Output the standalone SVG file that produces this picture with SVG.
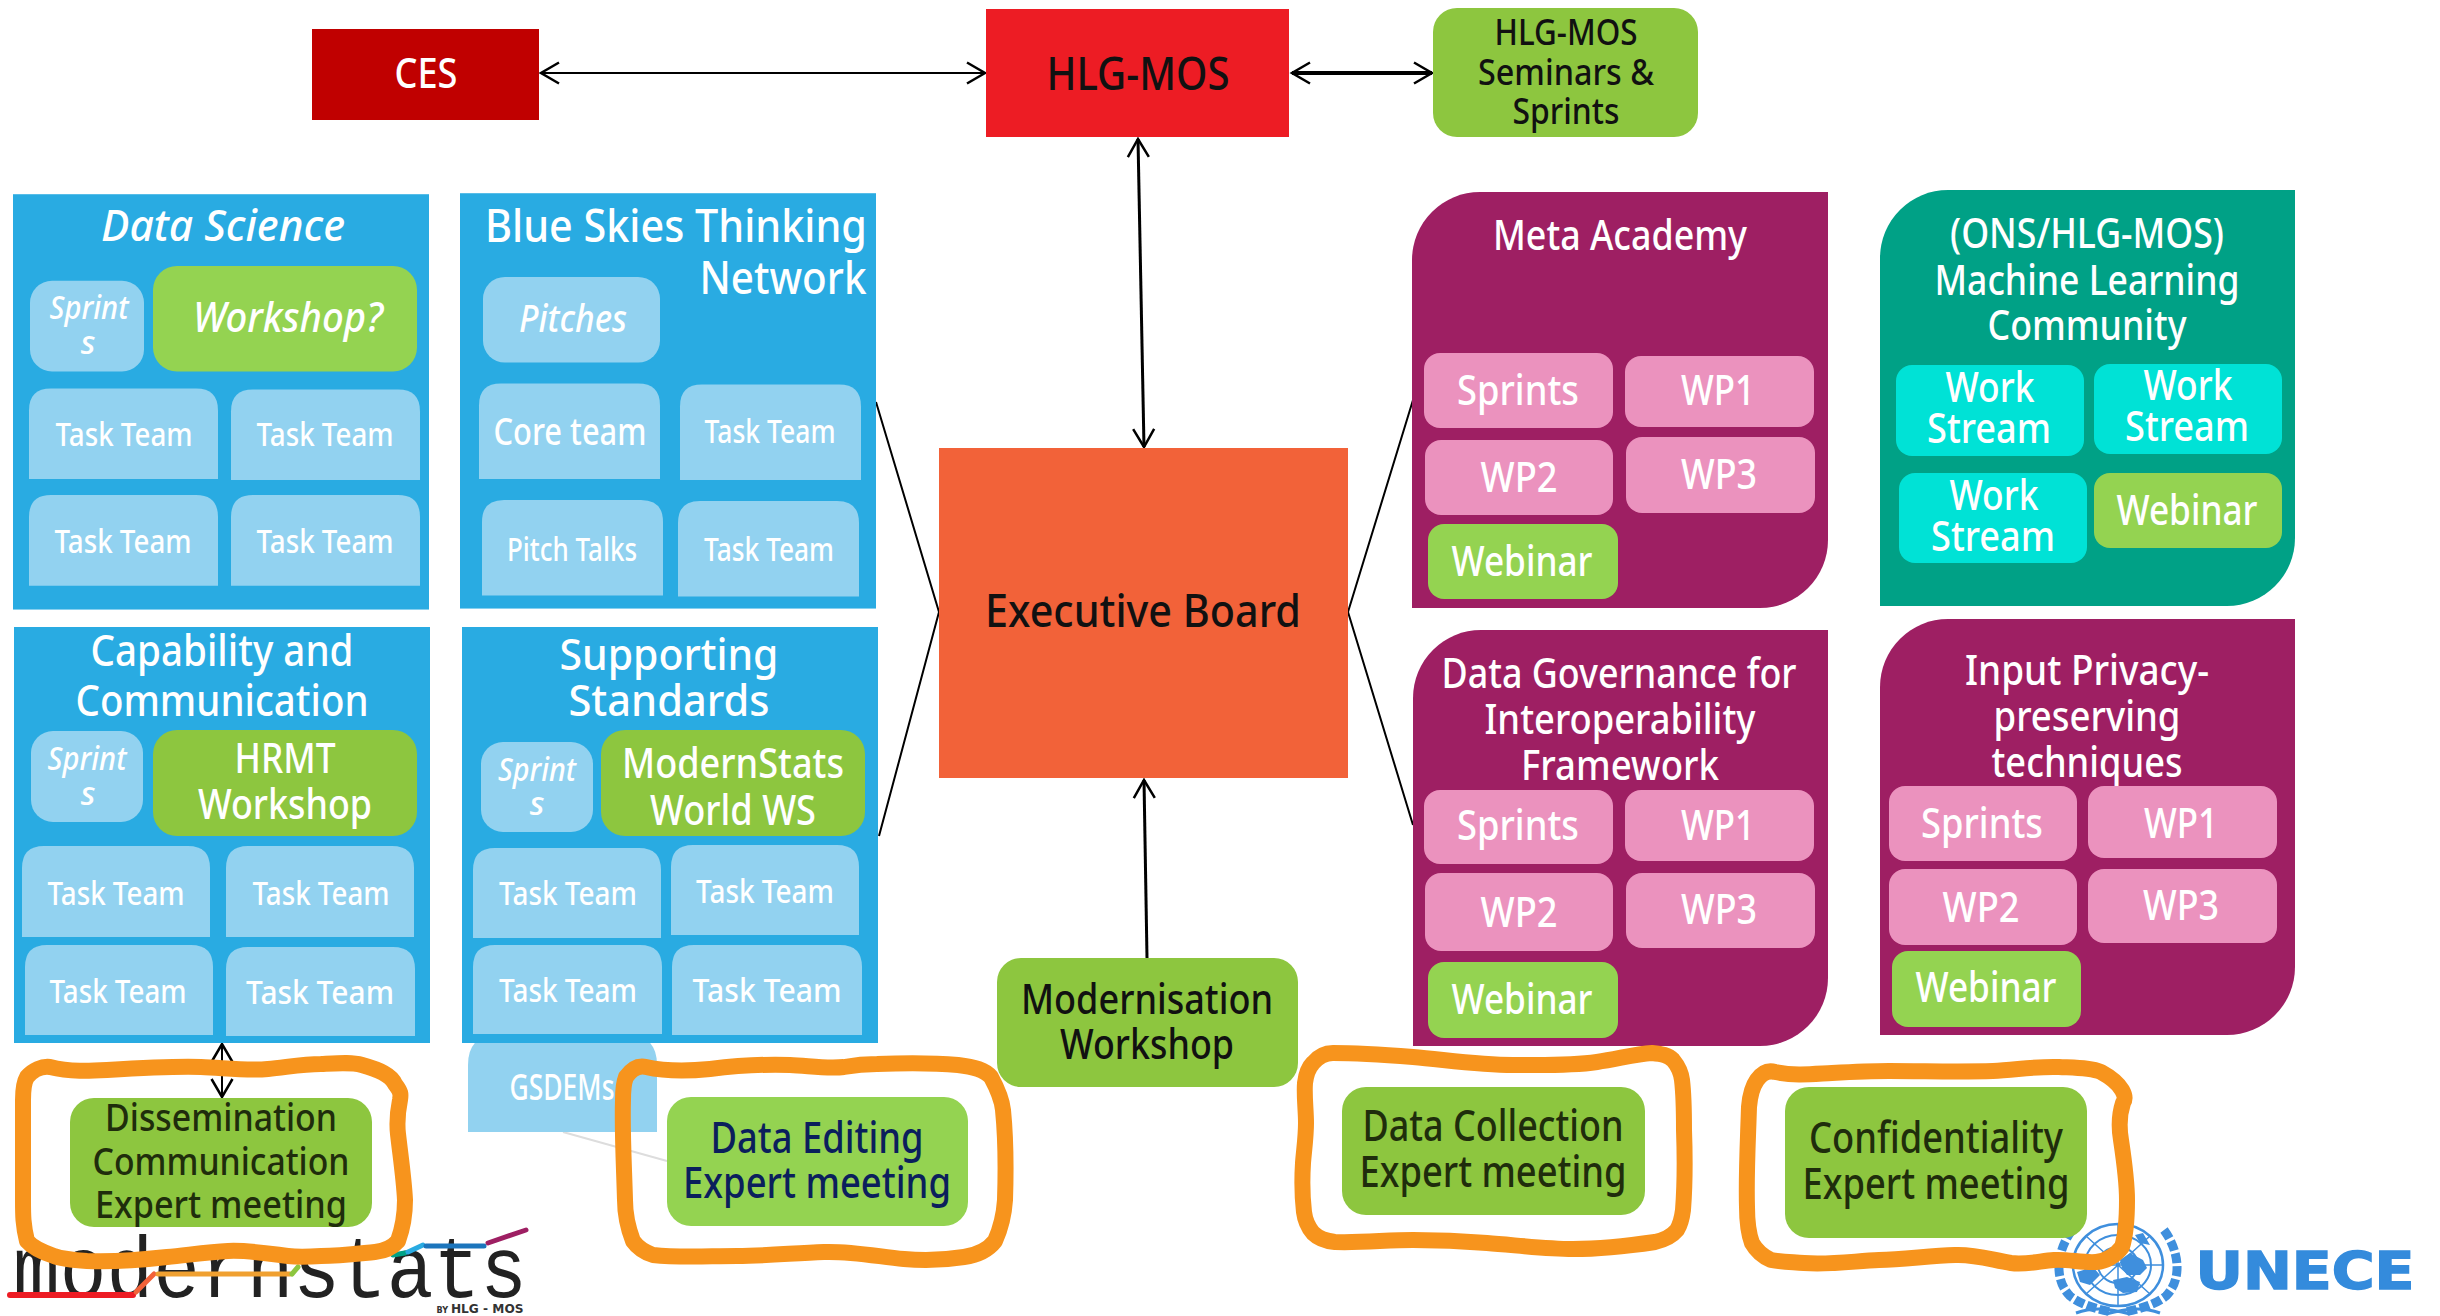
<svg xmlns="http://www.w3.org/2000/svg" width="2440" height="1316" viewBox="0 0 2440 1316">
<style>
text{font-family:"Noto Sans","Open Sans",sans-serif;text-anchor:middle;fill:#fff;font-weight:500}
.dk{fill:#111}.mg{fill:#1f2d0c}.nv{fill:#0b1f5c}.it{font-style:italic}
.s32{font-size:33px}.s36{font-size:36px}.s38{font-size:38px}.s42{font-size:42px}.s44{font-size:44px}.s46{font-size:46px}
.blue{fill:#29abe2}.lb{fill:#92d2f0}.gr{fill:#94d351}.gd{fill:#8dc63f}.pu{fill:#9e1f63}.pk{fill:#eb92be}.tl{fill:#00a186}.cy{fill:#00e2d6}
.ln{fill:none;stroke:#000;stroke-width:2}
.sc{fill:none;stroke:#f7941d;stroke-width:16;stroke-linejoin:round}
.un{fill:none;stroke:#3f8fdd}
.bar{fill:none;stroke-width:5;stroke-linecap:round}
</style>
<defs>
<marker id="oa" markerUnits="userSpaceOnUse" markerWidth="24" markerHeight="26" refX="21" refY="12" orient="auto-start-reverse" viewBox="0 0 24 24"><path d="M3,1.500 L21,12 L3,22.500" fill="none" stroke="#000" stroke-width="2.500"/></marker>
</defs>

<g id="logo-modernstats">
<text x="270" y="1297" style="font-family:'Liberation Mono',monospace;font-size:88px;font-weight:400;fill:#222" textLength="514" lengthAdjust="spacingAndGlyphs">modernstats</text>
<path class="bar" d="M10,1295H133" stroke="#ed1c24" style="stroke-width:6"/>
<path class="bar" d="M136,1292L154,1274" stroke="#f26239"/>
<path class="bar" d="M158,1274H290" stroke="#f0a030"/>
<path class="bar" d="M292,1274L298,1267" stroke="#8dc63f"/>
<path class="bar" d="M393,1255L405,1253" stroke="#00a186"/>
<path class="bar" d="M408,1252L423,1245" stroke="#29abe2"/>
<path class="bar" d="M426,1246H484" stroke="#1c75bc"/>
<path class="bar" d="M488,1243L526,1230" stroke="#9e1f63"/>
<text x="480" y="1313" style="font-family:'DejaVu Sans',sans-serif;font-size:12px;fill:#333;font-weight:700" textLength="87" lengthAdjust="spacingAndGlyphs"><tspan font-size="8px">BY </tspan>HLG - MOS</text>
</g>

<g id="logo-unece">
<ellipse class="un" cx="2118" cy="1265" rx="45" ry="41" stroke-width="2.500"/>
<ellipse class="un" cx="2118" cy="1265" rx="33" ry="30" stroke-width="2"/>
<ellipse class="un" cx="2118" cy="1265" rx="20" ry="18" stroke-width="2"/>
<path class="un" d="M2073,1265H2163M2118,1224V1306M2086,1236L2150,1294M2150,1236L2086,1294" stroke-width="1.500"/>
<path d="M2120,1260L2130,1253L2143,1260L2147,1268L2140,1275L2127,1275L2122,1268ZM2077,1272L2093,1267L2100,1275L2090,1285L2080,1282ZM2113,1280L2127,1277L2140,1282L2137,1292L2123,1293L2115,1288ZM2135,1235L2143,1233L2150,1245L2140,1243Z" fill="#3f8fdd"/>
<path class="un" d="M2072,1230C2056,1252 2054,1280 2070,1296C2080,1304 2095,1309 2112,1312M2164,1230C2180,1252 2182,1280 2166,1296C2156,1304 2141,1309 2124,1312" stroke-width="9" stroke-dasharray="10 3"/>
<path class="un" d="M2076,1313C2095,1306 2110,1309 2130,1314M2160,1313C2141,1306 2126,1309 2106,1314" stroke-width="3"/>
<text x="2305" y="1289" style="font-family:'DejaVu Sans',sans-serif;font-weight:700;font-size:51px;fill:#348bdc;stroke:#348bdc;stroke-width:1.500" textLength="219" lengthAdjust="spacingAndGlyphs">UNECE</text>
</g>

<g id="connectors">
<path class="ln" d="M541,73H985" marker-start="url(#oa)" marker-end="url(#oa)"/>
<path class="ln" style="stroke-width:4" d="M1292,73H1432" marker-start="url(#oa)" marker-end="url(#oa)"/>
<path class="ln" style="stroke-width:3" d="M1138,139L1144,447" marker-start="url(#oa)" marker-end="url(#oa)"/>
<path class="ln" style="stroke-width:3" d="M1147,958L1144,780" marker-end="url(#oa)"/>
<path class="ln" d="M876,402L939,612L879,836"/>
<path class="ln" d="M1413,400L1348,612L1413,825"/>
<path class="ln" d="M222,1044V1097" marker-start="url(#oa)" marker-end="url(#oa)"/>
<path d="M563,1132L667,1161" fill="none" stroke="#ddd" stroke-width="2"/>
</g>

<g id="gsdems"><path class="lb" d="M468,1132V1065Q468,1035 498,1035H627Q657,1035 657,1065V1132Z"/>
<text class="s36" x="562" y="1100" textLength="105" lengthAdjust="spacingAndGlyphs">GSDEMs</text></g>

<g id="ces"><rect x="312" y="29" width="227" height="91" fill="#c00000"/><text x="426" y="88" style="font-size:41px" textLength="63" lengthAdjust="spacingAndGlyphs">CES</text></g>
<g id="hlg-mos"><rect x="986" y="9" width="303" height="128" fill="#ed1c24"/><text class="dk s46" x="1138" y="90" textLength="183" lengthAdjust="spacingAndGlyphs">HLG-MOS</text></g>
<g id="seminars"><rect class="gd" x="1433" y="8" width="265" height="129" rx="24"/>
<text class="dk s36" x="1566" y="45" textLength="143" lengthAdjust="spacingAndGlyphs">HLG-MOS</text>
<text class="dk s36" x="1566" y="85" textLength="176" lengthAdjust="spacingAndGlyphs">Seminars &amp;</text>
<text class="dk s36" x="1566" y="124" textLength="107" lengthAdjust="spacingAndGlyphs">Sprints</text></g>

<g id="data-science" transform="scale(1,.996)">
<rect class="blue" x="13" y="195" width="416" height="417"/>
<text class="it s44" x="223" y="242" textLength="244" lengthAdjust="spacingAndGlyphs">Data Science</text>
<rect class="lb" x="30" y="282" width="114" height="91" rx="22"/>
<text class="it s32" x="89" y="320" textLength="79" lengthAdjust="spacingAndGlyphs">Sprint</text>
<text class="it s32" x="88" y="355">s</text>
<rect class="gr" x="153" y="267" width="264" height="106" rx="24"/>
<text class="it s42" x="288" y="333" textLength="190" lengthAdjust="spacingAndGlyphs">Workshop?</text>
<path class="lb" d="M29,481V412Q29,390 51,390H196Q218,390 218,412V481Z"/><text class="s32" x="124" y="448" textLength="137" lengthAdjust="spacingAndGlyphs">Task Team</text>
<path class="lb" d="M231,482V413Q231,391 253,391H398Q420,391 420,413V482Z"/><text class="s32" x="325" y="448" textLength="137" lengthAdjust="spacingAndGlyphs">Task Team</text>
<path class="lb" d="M29,588V519Q29,497 51,497H196Q218,497 218,519V588Z"/><text class="s32" x="123" y="555" textLength="137" lengthAdjust="spacingAndGlyphs">Task Team</text>
<path class="lb" d="M231,588V519Q231,497 253,497H398Q420,497 420,519V588Z"/><text class="s32" x="325" y="555" textLength="137" lengthAdjust="spacingAndGlyphs">Task Team</text>
</g>

<g id="blue-skies" transform="scale(1,.996)">
<rect class="blue" x="460" y="194" width="416" height="417"/>
<text class="s46" x="676" y="243" textLength="382" lengthAdjust="spacingAndGlyphs">Blue Skies Thinking</text>
<text class="s46" x="783" y="295" textLength="167" lengthAdjust="spacingAndGlyphs">Network</text>
<rect class="lb" x="483" y="278" width="177" height="86" rx="22"/>
<text class="it s38" x="573" y="333" textLength="108" lengthAdjust="spacingAndGlyphs">Pitches</text>
<path class="lb" d="M479,481V407Q479,385 501,385H638Q660,385 660,407V481Z"/><text class="s38" x="570" y="447" textLength="153" lengthAdjust="spacingAndGlyphs">Core team</text>
<path class="lb" d="M680,482V408Q680,386 702,386H839Q861,386 861,408V482Z"/><text class="s32" x="770" y="445" textLength="131" lengthAdjust="spacingAndGlyphs">Task Team</text>
<path class="lb" d="M482,598V524Q482,502 504,502H641Q663,502 663,524V598Z"/><text class="s32" x="572" y="563" textLength="130" lengthAdjust="spacingAndGlyphs">Pitch Talks</text>
<path class="lb" d="M678,599V525Q678,503 700,503H837Q859,503 859,525V599Z"/><text class="s32" x="769" y="563" textLength="130" lengthAdjust="spacingAndGlyphs">Task Team</text>
</g>

<g id="capability">
<rect class="blue" x="14" y="627" width="416" height="416"/>
<text class="s44" x="222" y="666" textLength="263" lengthAdjust="spacingAndGlyphs">Capability and</text>
<text class="s44" x="222" y="716" textLength="293" lengthAdjust="spacingAndGlyphs">Communication</text>
<rect class="lb" x="31" y="731" width="112" height="91" rx="22"/>
<text class="it s32" x="87" y="770" textLength="79" lengthAdjust="spacingAndGlyphs">Sprint</text>
<text class="it s32" x="88" y="805">s</text>
<rect class="gd" x="153" y="730" width="264" height="106" rx="24"/>
<text class="s42" x="285" y="773" textLength="101" lengthAdjust="spacingAndGlyphs">HRMT</text>
<text class="s42" x="285" y="819" textLength="174" lengthAdjust="spacingAndGlyphs">Workshop</text>
<path class="lb" d="M22,937V868Q22,846 44,846H188Q210,846 210,868V937Z"/><text class="s32" x="116" y="905" textLength="137" lengthAdjust="spacingAndGlyphs">Task Team</text>
<path class="lb" d="M226,937V868Q226,846 248,846H392Q414,846 414,868V937Z"/><text class="s32" x="321" y="905" textLength="137" lengthAdjust="spacingAndGlyphs">Task Team</text>
<path class="lb" d="M25,1035V967Q25,945 47,945H191Q213,945 213,967V1035Z"/><text class="s32" x="118" y="1003" textLength="137" lengthAdjust="spacingAndGlyphs">Task Team</text>
<path class="lb" d="M226,1036V969Q226,947 248,947H393Q415,947 415,969V1036Z"/><text class="s32" x="320" y="1004" textLength="148" lengthAdjust="spacingAndGlyphs">Task Team</text>
</g>

<g id="supporting-standards">
<rect class="blue" x="462" y="627" width="416" height="416"/>
<text class="s44" x="669" y="670" textLength="219" lengthAdjust="spacingAndGlyphs">Supporting</text>
<text class="s44" x="669" y="716" textLength="201" lengthAdjust="spacingAndGlyphs">Standards</text>
<rect class="lb" x="481" y="742" width="112" height="90" rx="22"/>
<text class="it s32" x="537" y="781" textLength="78" lengthAdjust="spacingAndGlyphs">Sprint</text>
<text class="it s32" x="537" y="815">s</text>
<rect class="gd" x="601" y="730" width="264" height="106" rx="24"/>
<text class="s42" x="733" y="778" textLength="222" lengthAdjust="spacingAndGlyphs">ModernStats</text>
<text class="s42" x="733" y="825" textLength="166" lengthAdjust="spacingAndGlyphs">World WS</text>
<path class="lb" d="M473,938V870Q473,848 495,848H639Q661,848 661,870V938Z"/><text class="s32" x="568" y="905" textLength="138" lengthAdjust="spacingAndGlyphs">Task Team</text>
<path class="lb" d="M671,935V867Q671,845 693,845H837Q859,845 859,867V935Z"/><text class="s32" x="765" y="903" textLength="138" lengthAdjust="spacingAndGlyphs">Task Team</text>
<path class="lb" d="M473,1034V967Q473,945 495,945H640Q662,945 662,967V1034Z"/><text class="s32" x="568" y="1002" textLength="138" lengthAdjust="spacingAndGlyphs">Task Team</text>
<path class="lb" d="M672,1035V967Q672,945 694,945H840Q862,945 862,967V1035Z"/><text class="s32" x="767" y="1002" textLength="149" lengthAdjust="spacingAndGlyphs">Task Team</text>
</g>

<g id="executive-board"><rect x="939" y="448" width="409" height="330" fill="#f26239"/>
<text class="dk s46" x="1143" y="627" textLength="316" lengthAdjust="spacingAndGlyphs">Executive Board</text></g>

<g id="modernisation-workshop"><rect class="gd" x="997" y="958" width="301" height="129" rx="24"/>
<text class="dk s42" x="1147" y="1014" textLength="252" lengthAdjust="spacingAndGlyphs">Modernisation</text>
<text class="dk s42" x="1147" y="1059" textLength="174" lengthAdjust="spacingAndGlyphs">Workshop</text></g>

<g id="meta-academy">
<path class="pu" d="M1480,192H1828V540A68,68 0 0 1 1760,608H1412V260A68,68 0 0 1 1480,192Z"/>
<text class="s42" x="1620" y="250" textLength="254" lengthAdjust="spacingAndGlyphs">Meta Academy</text>
<rect class="pk" x="1424" y="353" width="189" height="75" rx="16"/><text class="s42" x="1518" y="405" textLength="122" lengthAdjust="spacingAndGlyphs">Sprints</text>
<rect class="pk" x="1625" y="356" width="189" height="71" rx="16"/><text class="s42" x="1718" y="405" textLength="74" lengthAdjust="spacingAndGlyphs">WP1</text>
<rect class="pk" x="1425" y="440" width="188" height="75" rx="16"/><text class="s42" x="1519" y="492" textLength="77" lengthAdjust="spacingAndGlyphs">WP2</text>
<rect class="pk" x="1626" y="437" width="189" height="76" rx="16"/><text class="s42" x="1719" y="489" textLength="76" lengthAdjust="spacingAndGlyphs">WP3</text>
<rect class="gr" x="1428" y="524" width="190" height="75" rx="16"/><text class="s42" x="1522" y="576" textLength="141" lengthAdjust="spacingAndGlyphs">Webinar</text>
</g>

<g id="ml-community">
<path class="tl" d="M1948,190H2295V538A68,68 0 0 1 2227,606H1880V258A68,68 0 0 1 1948,190Z"/>
<text class="s42" x="2087" y="248" textLength="274" lengthAdjust="spacingAndGlyphs">(ONS/HLG-MOS)</text>
<text class="s42" x="2087" y="295" textLength="305" lengthAdjust="spacingAndGlyphs">Machine Learning</text>
<text class="s42" x="2087" y="340" textLength="199" lengthAdjust="spacingAndGlyphs">Community</text>
<rect class="cy" x="1896" y="365" width="188" height="91" rx="16"/><text class="s42" x="1990" y="402" textLength="89" lengthAdjust="spacingAndGlyphs">Work</text><text class="s42" x="1989" y="443" textLength="124" lengthAdjust="spacingAndGlyphs">Stream</text>
<rect class="cy" x="2094" y="364" width="188" height="90" rx="16"/><text class="s42" x="2188" y="400" textLength="89" lengthAdjust="spacingAndGlyphs">Work</text><text class="s42" x="2187" y="441" textLength="124" lengthAdjust="spacingAndGlyphs">Stream</text>
<rect class="cy" x="1899" y="473" width="188" height="90" rx="16"/><text class="s42" x="1994" y="510" textLength="89" lengthAdjust="spacingAndGlyphs">Work</text><text class="s42" x="1993" y="551" textLength="124" lengthAdjust="spacingAndGlyphs">Stream</text>
<rect class="gr" x="2094" y="473" width="188" height="75" rx="16"/><text class="s42" x="2187" y="525" textLength="141" lengthAdjust="spacingAndGlyphs">Webinar</text>
</g>

<g id="data-governance">
<path class="pu" d="M1481,630H1828V978A68,68 0 0 1 1760,1046H1413V698A68,68 0 0 1 1481,630Z"/>
<text class="s42" x="1619" y="688" textLength="355" lengthAdjust="spacingAndGlyphs">Data Governance for</text>
<text class="s42" x="1620" y="734" textLength="271" lengthAdjust="spacingAndGlyphs">Interoperability</text>
<text class="s42" x="1620" y="780" textLength="198" lengthAdjust="spacingAndGlyphs">Framework</text>
<rect class="pk" x="1424" y="790" width="189" height="74" rx="16"/><text class="s42" x="1518" y="840" textLength="122" lengthAdjust="spacingAndGlyphs">Sprints</text>
<rect class="pk" x="1625" y="790" width="189" height="71" rx="16"/><text class="s42" x="1718" y="840" textLength="74" lengthAdjust="spacingAndGlyphs">WP1</text>
<rect class="pk" x="1425" y="873" width="188" height="78" rx="16"/><text class="s42" x="1519" y="927" textLength="77" lengthAdjust="spacingAndGlyphs">WP2</text>
<rect class="pk" x="1626" y="873" width="189" height="75" rx="16"/><text class="s42" x="1719" y="924" textLength="76" lengthAdjust="spacingAndGlyphs">WP3</text>
<rect class="gr" x="1428" y="962" width="190" height="76" rx="16"/><text class="s42" x="1522" y="1014" textLength="141" lengthAdjust="spacingAndGlyphs">Webinar</text>
</g>

<g id="input-privacy">
<path class="pu" d="M1948,619H2295V967A68,68 0 0 1 2227,1035H1880V687A68,68 0 0 1 1948,619Z"/>
<text class="s42" x="2087" y="685" textLength="244" lengthAdjust="spacingAndGlyphs">Input Privacy-</text>
<text class="s42" x="2087" y="731" textLength="187" lengthAdjust="spacingAndGlyphs">preserving</text>
<text class="s42" x="2087" y="777" textLength="191" lengthAdjust="spacingAndGlyphs">techniques</text>
<rect class="pk" x="1889" y="786" width="188" height="75" rx="16"/><text class="s42" x="1982" y="838" textLength="122" lengthAdjust="spacingAndGlyphs">Sprints</text>
<rect class="pk" x="2088" y="786" width="189" height="72" rx="16"/><text class="s42" x="2181" y="838" textLength="74" lengthAdjust="spacingAndGlyphs">WP1</text>
<rect class="pk" x="1889" y="869" width="188" height="76" rx="16"/><text class="s42" x="1981" y="922" textLength="77" lengthAdjust="spacingAndGlyphs">WP2</text>
<rect class="pk" x="2088" y="869" width="189" height="74" rx="16"/><text class="s42" x="2181" y="920" textLength="76" lengthAdjust="spacingAndGlyphs">WP3</text>
<rect class="gr" x="1892" y="951" width="189" height="76" rx="16"/><text class="s42" x="1986" y="1002" textLength="141" lengthAdjust="spacingAndGlyphs">Webinar</text>
</g>

<g id="dissemination"><rect class="gd" x="70" y="1098" width="302" height="129" rx="24"/>
<text class="mg s38" x="221" y="1131" textLength="232" lengthAdjust="spacingAndGlyphs">Dissemination</text>
<text class="mg s38" x="221" y="1175" textLength="257" lengthAdjust="spacingAndGlyphs">Communication</text>
<text class="mg s38" x="221" y="1218" textLength="252" lengthAdjust="spacingAndGlyphs">Expert meeting</text></g>
<g id="data-editing"><rect class="gr" x="667" y="1097" width="301" height="129" rx="24"/>
<text class="nv s44" x="817" y="1153" textLength="213" lengthAdjust="spacingAndGlyphs">Data Editing</text>
<text class="nv s44" x="817" y="1198" textLength="268" lengthAdjust="spacingAndGlyphs">Expert meeting</text></g>
<g id="data-collection"><rect class="gd" x="1342" y="1087" width="303" height="128" rx="24"/>
<text class="mg s44" x="1493" y="1141" textLength="261" lengthAdjust="spacingAndGlyphs">Data Collection</text>
<text class="mg s44" x="1493" y="1187" textLength="267" lengthAdjust="spacingAndGlyphs">Expert meeting</text></g>
<g id="confidentiality"><rect class="gd" x="1785" y="1087" width="302" height="151" rx="24"/>
<text class="mg s44" x="1936" y="1153" textLength="254" lengthAdjust="spacingAndGlyphs">Confidentiality</text>
<text class="mg s44" x="1936" y="1199" textLength="267" lengthAdjust="spacingAndGlyphs">Expert meeting</text></g>

<g id="highlights">
<path class="sc" d="M50,1067C70,1072 90,1071 107,1070C140,1068 175,1066 201,1067C225,1068 248,1071 268,1069C288,1067 303,1064 321,1064C340,1063 352,1062 362,1065C380,1070 391,1075 395,1084C401,1092 401,1094 400,1100C397,1115 397,1125 398,1134C401,1160 404,1180 405,1200C405,1218 402,1230 398,1241C392,1248 385,1251 375,1252C355,1254 340,1256 321,1256C305,1257 297,1257 288,1256C265,1253 247,1250 228,1251C208,1252 188,1255 167,1257C140,1260 110,1262 87,1261C72,1260 62,1259 54,1256C42,1252 33,1248 27,1241C23,1225 23,1215 23,1200V1100C23,1090 24,1082 27,1077C33,1070 42,1066 50,1067Z"/>
<path class="sc" d="M646,1067C668,1072 690,1071 710,1069C735,1066 765,1064 790,1065C810,1066 828,1069 844,1067C855,1065 866,1064 877,1064C905,1063 935,1063 958,1065C975,1067 985,1070 991,1077C998,1090 1002,1100 1003,1110C1006,1140 1006,1170 1005,1200C1004,1215 1000,1230 995,1241C988,1250 978,1255 964,1257C945,1260 925,1261 904,1259C875,1256 850,1251 824,1252C795,1253 765,1256 737,1256C708,1256 680,1258 653,1255C644,1252 638,1248 633,1241C628,1228 625,1215 625,1200C624,1165 622,1130 623,1100C623,1090 624,1082 626,1077C631,1070 638,1065 646,1067Z"/>
<path class="sc" d="M1333,1053C1360,1053 1387,1055 1413,1057C1447,1060 1480,1065 1513,1065C1542,1065 1570,1066 1597,1062C1618,1059 1635,1054 1652,1053C1662,1054 1668,1055 1673,1060C1678,1066 1681,1072 1682,1080C1684,1097 1684,1113 1684,1130C1685,1157 1685,1184 1683,1210C1682,1218 1680,1225 1677,1230C1672,1236 1664,1240 1655,1242C1628,1246 1600,1249 1573,1249C1544,1249 1515,1245 1487,1243C1462,1241 1438,1240 1413,1240C1387,1240 1361,1243 1335,1242C1325,1241 1318,1238 1313,1233C1308,1227 1305,1220 1304,1212C1302,1195 1302,1179 1303,1163C1304,1150 1306,1137 1306,1123C1306,1110 1304,1096 1305,1083C1306,1075 1308,1068 1313,1063C1318,1057 1325,1053 1333,1053Z"/>
<path class="sc" d="M1775,1072C1795,1076 1812,1074 1832,1073C1850,1072 1870,1071 1889,1071C1925,1071 1960,1072 1993,1071C2015,1070 2038,1066 2059,1067C2080,1068 2092,1068 2101,1072C2112,1078 2118,1083 2122,1090C2126,1097 2125,1100 2123,1103C2119,1115 2119,1128 2121,1140C2124,1160 2127,1180 2127,1200C2127,1218 2126,1234 2122,1247C2115,1256 2107,1261 2096,1262C2082,1263 2068,1259 2054,1260C2040,1261 2026,1265 2011,1263C1992,1260 1975,1254 1955,1255C1930,1256 1905,1259 1879,1260C1855,1261 1830,1265 1804,1263C1792,1262 1782,1262 1771,1260C1762,1256 1756,1250 1752,1243C1748,1232 1747,1220 1747,1207C1746,1175 1748,1140 1749,1107C1750,1095 1752,1087 1757,1080C1762,1073 1768,1070 1775,1072Z"/>
</g>
</svg>
